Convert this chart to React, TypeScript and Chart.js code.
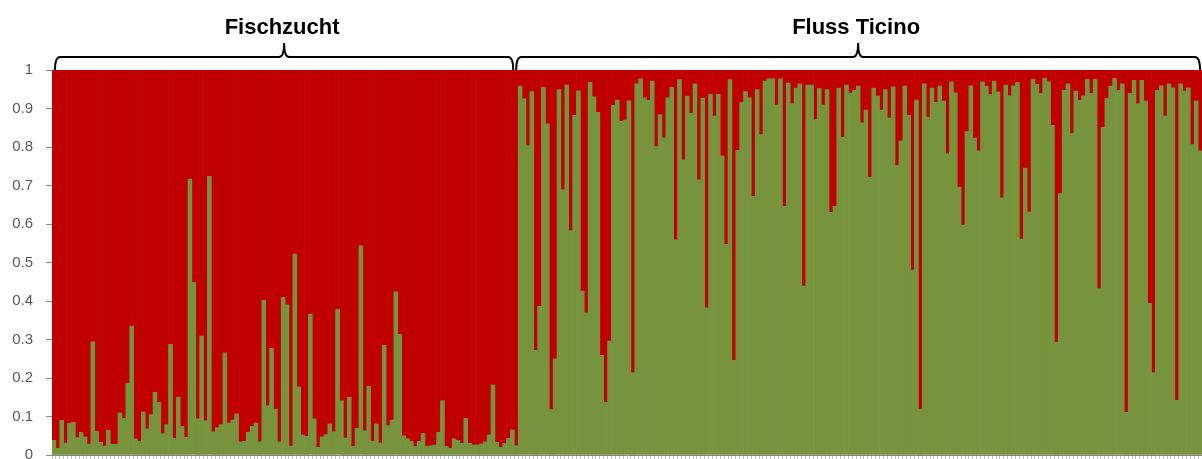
import { useEffect, useRef } from "react";
import { Chart, registerables } from "chart.js";

Chart.register(...registerables);

const groupNames = ["Fischzucht", "Fluss Ticino"];

// Membership coefficient (green cluster) per individual, Fischzucht
const fischzucht = [
  0.038, 0.017, 0.09, 0.031, 0.082, 0.085, 0.045, 0.059, 0.047, 0.028,
  0.294, 0.061, 0.033, 0.023, 0.064, 0.028, 0.028, 0.109, 0.095, 0.186,
  0.335, 0.042, 0.035, 0.112, 0.068, 0.105, 0.163, 0.137, 0.055, 0.079,
  0.287, 0.043, 0.15, 0.074, 0.046, 0.717, 0.448, 0.094, 0.309, 0.089,
  0.724, 0.06, 0.071, 0.079, 0.265, 0.083, 0.091, 0.107, 0.034, 0.035,
  0.059, 0.074, 0.083, 0.034, 0.402, 0.128, 0.277, 0.119, 0.034, 0.409,
  0.39, 0.023, 0.522, 0.177, 0.052, 0.048, 0.366, 0.094, 0.02, 0.047,
  0.053, 0.081, 0.06, 0.378, 0.141, 0.044, 0.15, 0.022, 0.069, 0.543,
  0.063, 0.178, 0.036, 0.081, 0.031, 0.285, 0.076, 0.091, 0.424, 0.313,
  0.05, 0.042, 0.035, 0.022, 0.035, 0.056, 0.022, 0.024, 0.026, 0.059,
  0.141, 0.022, 0.017, 0.042, 0.038, 0.03, 0.095, 0.03, 0.026, 0.026,
  0.029, 0.034, 0.052, 0.182, 0.033, 0.02, 0.03, 0.043, 0.065, 0.024,
];

// Membership coefficient (green cluster) per individual, Fluss Ticino
const ticino = [
  0.958, 0.925, 0.803, 0.944, 0.272, 0.386, 0.955, 0.86, 0.118, 0.25,
  0.949, 0.689, 0.961, 0.583, 0.882, 0.946, 0.426, 0.369, 0.968, 0.93,
  0.89, 0.259, 0.137, 0.296, 0.908, 0.922, 0.867, 0.87, 0.92, 0.214,
  0.964, 0.977, 0.928, 0.921, 0.971, 0.801, 0.884, 0.823, 0.928, 0.955,
  0.559, 0.975, 0.767, 0.932, 0.887, 0.964, 0.715, 0.927, 0.382, 0.937,
  0.88, 0.937, 0.777, 0.547, 0.975, 0.246, 0.791, 0.916, 0.944, 0.928,
  0.672, 0.949, 0.832, 0.971, 0.977, 0.977, 0.909, 0.977, 0.646, 0.966,
  0.912, 0.953, 0.964, 0.439, 0.961, 0.961, 0.871, 0.952, 0.909, 0.949,
  0.63, 0.646, 0.953, 0.825, 0.961, 0.94, 0.947, 0.958, 0.863, 0.896,
  0.721, 0.953, 0.932, 0.896, 0.949, 0.875, 0.956, 0.752, 0.816, 0.958,
  0.882, 0.48, 0.922, 0.119, 0.964, 0.877, 0.953, 0.916, 0.958, 0.919,
  0.782, 0.969, 0.941, 0.696, 0.597, 0.84, 0.959, 0.823, 0.79, 0.969,
  0.958, 0.936, 0.971, 0.943, 0.668, 0.961, 0.933, 0.959, 0.968, 0.561,
  0.745, 0.631, 0.976, 0.963, 0.939, 0.979, 0.969, 0.856, 0.293, 0.679,
  0.947, 0.964, 0.835, 0.945, 0.921, 0.933, 0.976, 0.939, 0.976, 0.432,
  0.851, 0.926, 0.958, 0.978, 0.947, 0.964, 0.111, 0.939, 0.973, 0.912,
  0.973, 0.919, 0.394, 0.214, 0.947, 0.959, 0.88, 0.964, 0.954, 0.142,
  0.964, 0.945, 0.954, 0.806, 0.92, 0.79,
];

const yTickLabels = ["0", "0.1", "0.2", "0.3", "0.4", "0.5", "0.6", "0.7", "0.8", "0.9", "1"];

const GREEN = "#77933C";
const RED = "#C00000";
const AXIS = "#868686";

const bracePlugin = {
  id: "groupBraces",
  afterDraw(chart: any) {
    const { ctx, chartArea, scales } = chart;
    const x = scales.x;
    const n1 = fischzucht.length;
    const half = (x.getPixelForValue(1) - x.getPixelForValue(0)) / 2;
    const boundary = x.getPixelForValue(n1 - 1) + half;
    const groups = [
      { label: groupNames[0], x0: chartArea.left + 3, x1: boundary - 5 },
      { label: groupNames[1], x0: boundary - 2, x1: chartArea.right - 2 },
    ];
    const yB = chartArea.top;
    const yL = chartArea.top - 13;
    const yT = chartArea.top - 27;
    const r = 5;
    ctx.save();
    ctx.strokeStyle = "#000";
    ctx.lineWidth = 2;
    ctx.fillStyle = "#000";
    ctx.font = "bold 22px 'Liberation Sans', Arial, sans-serif";
    ctx.textAlign = "center";
    ctx.textBaseline = "middle";
    for (const g of groups) {
      const xm = (g.x0 + g.x1) / 2;
      ctx.beginPath();
      ctx.moveTo(g.x0, yB);
      ctx.quadraticCurveTo(g.x0, yL, g.x0 + r, yL);
      ctx.lineTo(xm - r, yL);
      ctx.quadraticCurveTo(xm, yL, xm, yT);
      ctx.quadraticCurveTo(xm, yL, xm + r, yL);
      ctx.lineTo(g.x1 - r, yL);
      ctx.quadraticCurveTo(g.x1, yL, g.x1, yB);
      ctx.stroke();
      ctx.fillText(g.label, xm - 2, chartArea.top - 42);
    }
    ctx.restore();
  },
};

export default function App() {
  const canvasRef = useRef<HTMLCanvasElement | null>(null);

  useEffect(() => {
    const canvas = canvasRef.current;
    if (!canvas) return;
    const green = [...fischzucht, ...ticino];
    const red = green.map((v) => 1 - v);
    const labels = green.map((_, i) => String(i + 1));

    const chart = new Chart(canvas, {
      type: "bar",
      data: {
        labels,
        datasets: [
          {
            label: "Cluster 1",
            data: green,
            backgroundColor: GREEN,
            borderWidth: 0,
            categoryPercentage: 1,
            barPercentage: 1,
          },
          {
            label: "Cluster 2",
            data: red,
            backgroundColor: RED,
            borderWidth: 0,
            categoryPercentage: 1,
            barPercentage: 1,
          },
        ],
      },
      options: {
        responsive: false,
        animation: false,
        layout: { padding: { top: 70, left: 0, right: 0, bottom: 0 } },
        plugins: {
          legend: { display: false },
          tooltip: { enabled: false },
          title: { display: false },
        },
        scales: {
          x: {
            stacked: true,
            grid: {
              display: true,
              drawOnChartArea: false,
              drawTicks: true,
              tickLength: 4,
              color: "#BFBFBF",
              offset: true,
            },
            border: { display: true, color: AXIS },
            ticks: { display: false },
            afterFit: (scale: any) => {
              scale.height = 4;
              scale.paddingLeft = 0;
              scale.paddingRight = 0;
            },
          },
          y: {
            stacked: true,
            min: 0,
            max: 1,
            grid: {
              display: true,
              drawOnChartArea: false,
              drawTicks: true,
              tickLength: 6,
              color: AXIS,
            },
            border: { display: true, color: AXIS },
            ticks: {
              stepSize: 0.1,
              padding: 13,
              color: "#595959",
              font: { family: "'Liberation Sans', Arial, sans-serif", size: 15 },
              callback: (v: any) => yTickLabels[Math.round(Number(v) * 10)],
            },
            afterFit: (scale: any) => {
              scale.width = 52;
              scale.paddingTop = 0;
              scale.paddingBottom = 0;
            },
          },
        },
      },
      plugins: [bracePlugin],
    });
    return () => chart.destroy();
  }, []);

  return (
    <div style={{ position: "absolute", left: 0, top: 0, width: 1202, height: 459 }}>
      <canvas ref={canvasRef} width={1202} height={459} style={{ display: "block" }} />
    </div>
  );
}
